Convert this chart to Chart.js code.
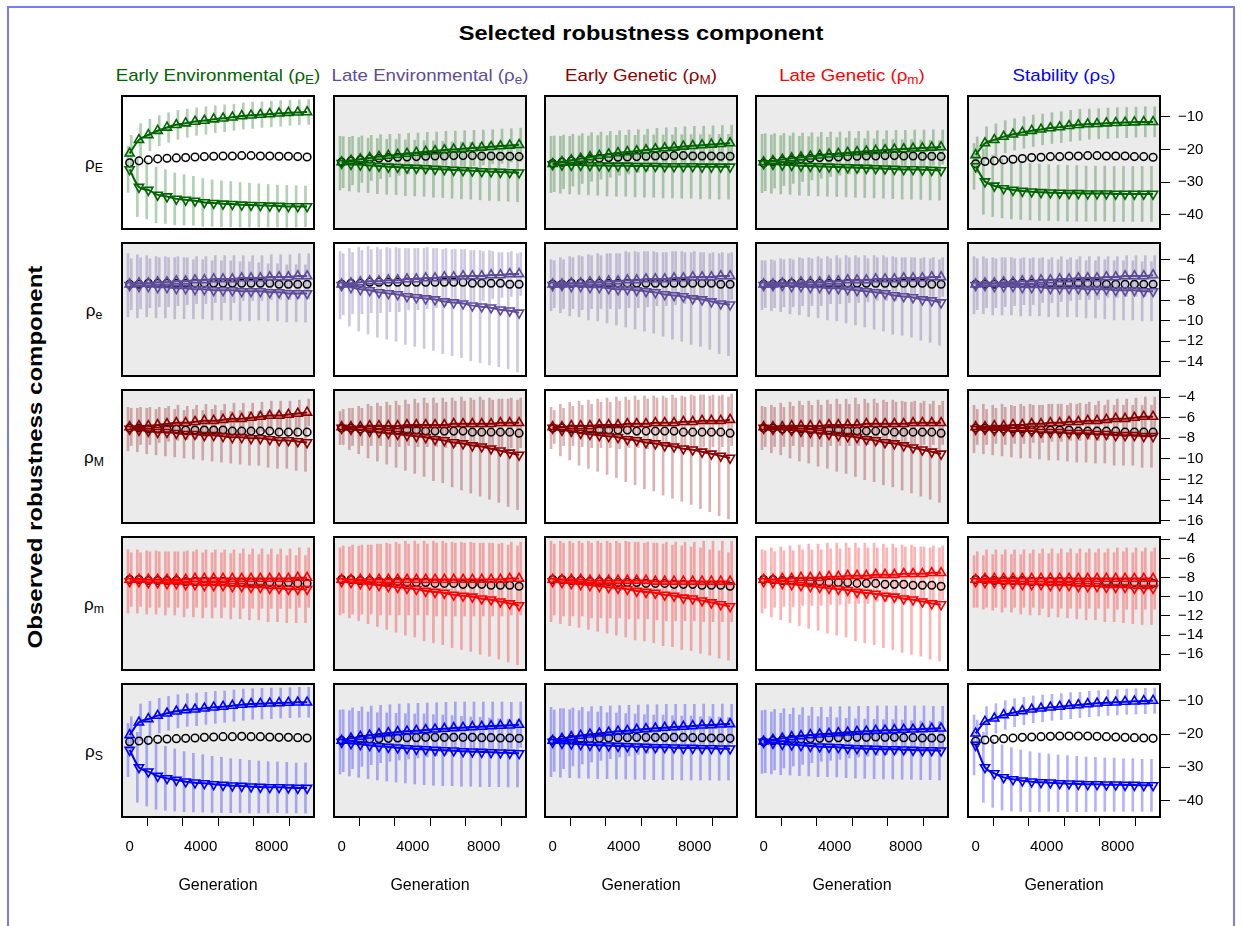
<!DOCTYPE html>
<html>
<head>
<meta charset="utf-8">
<script src="https://cdn.jsdelivr.net/npm/chart.js@4.4.0/dist/chart.umd.min.js"></script>
<style>
body{margin:0;background:#fff;width:1242px;height:926px;overflow:hidden;position:relative;font-family:"Liberation Sans",Arial,Helvetica,sans-serif;}
#frame{position:absolute;left:7px;top:6px;width:1224px;height:960px;border:2px solid #7a7aff;border-bottom:none;}
.t{position:absolute;white-space:nowrap;transform:translate(-50%,-50%);line-height:1;}
canvas{position:absolute;}
sub{font-size:0.72em;vertical-align:-0.3em;line-height:0;}
</style>
</head>
<body>
<div id="frame"></div>
<div class="t" style="left:641px;top:33px;font-weight:bold;font-size:20px;transform:translate(-50%,-50%) scaleX(1.18)">Selected robustness component</div>
<div class="t" style="left:35px;top:457px;font-weight:bold;font-size:20px;transform:translate(-50%,-50%) rotate(-90deg) scaleX(1.2)">Observed robustness component</div>
<script>
// generations at which populations were sampled
const gens = [0,526,1053,1579,2105,2632,3158,3684,4211,4737,5263,5789,6316,6842,7368,7895,8421,8947,9474,10000];

const components = ['Early Environmental','Late Environmental','Early Genetic','Late Genetic','Stability'];
const symbols = ['E','e','M','m','S'];
const compColors = ['#006400','#5e4b9a','#8b0000','#ff0000','#0000ff'];
const barColors = ['rgba(0,100,0,0.3)','rgba(94,75,154,0.3)','rgba(139,0,0,0.3)','rgba(255,0,0,0.3)','rgba(0,0,255,0.3)'];

const xTicks = [0,2000,4000,6000,8000,10000];
const xTickLabels = [0,4000,8000];
const rowTicks = [
  [-10,-20,-30,-40],
  [-4,-6,-8,-10,-12,-14],
  [-4,-6,-8,-10,-12,-14,-16],
  [-4,-6,-8,-10,-12,-14,-16],
  [-10,-20,-30,-40]
];
const rowRanges = [[-44.3,-3.7],[-15.4,-2.36],[-16.2,-3.32],[-17.64,-3.76],[-44.9,-5.0]];

// each row = observed component, inner arrays = selected component (columns)
// ctrl = unselected lines (circles), up / down = selection for higher / lower robustness
const earlyEnvCtrl = [
  [-24.1,-23.5,-23.2,-22.9,-22.7,-22.6,-22.5,-22.3,-22.2,-22.1,-22.0,-22.0,-21.9,-21.9,-22.0,-22.0,-22.1,-22.1,-22.2,-22.3],
  [-23.9,-23.5,-23.2,-22.9,-22.7,-22.5,-22.4,-22.3,-22.2,-22.1,-22.0,-22.0,-21.9,-21.9,-21.9,-22.0,-22.0,-22.1,-22.1,-22.2],
  [-24.3,-23.9,-23.5,-23.2,-22.9,-22.7,-22.5,-22.4,-22.3,-22.2,-22.1,-22.0,-22.0,-21.9,-21.9,-22.0,-22.0,-22.0,-22.1,-22.1],
  [-24.2,-23.8,-23.5,-23.2,-22.9,-22.7,-22.5,-22.4,-22.3,-22.2,-22.1,-22.0,-22.0,-21.9,-21.9,-22.0,-22.0,-22.1,-22.1,-22.2],
  [-24.4,-23.7,-23.5,-23.2,-23.0,-22.8,-22.5,-22.4,-22.2,-22.2,-22.0,-22.0,-21.9,-21.9,-22.0,-22.0,-22.0,-22.2,-22.2,-22.4]
];
const earlyEnvUp = [
  [-21.2,-17.1,-15.6,-14.3,-13.3,-12.5,-12.0,-11.5,-11.2,-10.8,-10.5,-10.2,-9.8,-9.6,-9.4,-9.2,-9.0,-8.8,-8.7,-8.6],
  [-23.9,-23.4,-23.0,-22.6,-22.2,-21.9,-21.6,-21.3,-21.0,-20.7,-20.5,-20.2,-20.0,-19.8,-19.6,-19.4,-19.2,-19.0,-18.8,-18.6],
  [-24.4,-23.8,-23.3,-22.8,-22.3,-21.9,-21.5,-21.1,-20.8,-20.5,-20.2,-19.9,-19.6,-19.4,-19.1,-18.9,-18.7,-18.5,-18.3,-18.1],
  [-23.9,-23.5,-23.1,-22.7,-22.4,-22.1,-21.8,-21.5,-21.3,-21.0,-20.8,-20.6,-20.4,-20.2,-20.0,-19.9,-19.7,-19.6,-19.4,-19.3],
  [-21.7,-18.1,-17.1,-16.1,-15.4,-14.8,-14.3,-13.9,-13.5,-13.2,-12.8,-12.5,-12.3,-12.2,-12.0,-11.9,-11.8,-11.7,-11.6,-11.6]
];
const earlyEnvDown = [
  [-26.1,-31.5,-32.4,-33.9,-34.4,-35.1,-35.4,-35.7,-36.2,-36.4,-36.6,-36.7,-36.9,-37.0,-37.1,-37.2,-37.3,-37.4,-37.4,-37.4],
  [-24.2,-24.5,-24.7,-24.9,-25.1,-25.3,-25.4,-25.6,-25.7,-25.8,-26.0,-26.1,-26.3,-26.4,-26.5,-26.7,-26.8,-26.9,-27.0,-27.1],
  [-24.6,-24.7,-24.8,-24.8,-24.9,-24.9,-25.0,-25.0,-25.0,-25.1,-25.1,-25.1,-25.2,-25.2,-25.2,-25.2,-25.3,-25.3,-25.3,-25.3],
  [-24.3,-24.5,-24.7,-24.8,-25.0,-25.1,-25.2,-25.3,-25.4,-25.5,-25.6,-25.7,-25.8,-25.9,-26.0,-26.1,-26.1,-26.2,-26.3,-26.4],
  [-25.2,-29.8,-31.1,-31.9,-32.4,-32.7,-32.9,-33.1,-33.2,-33.3,-33.4,-33.4,-33.5,-33.5,-33.5,-33.6,-33.6,-33.6,-33.6,-33.6]
];
const earlyEnvUpSd = [
  [5.5,5.0,4.8,4.6,4.5,4.4,4.3,4.2,4.2,4.1,4.1,4.0,4.0,4.0,3.9,3.9,3.9,3.8,3.8,3.8],
  [7.8,7.4,7.1,6.9,6.7,6.5,6.3,6.2,6.0,5.9,5.8,5.7,5.6,5.5,5.4,5.3,5.2,5.2,5.1,5.1],
  [8.5,8.2,7.9,7.6,7.4,7.2,7.0,6.8,6.7,6.5,6.4,6.3,6.2,6.1,6.0,5.9,5.8,5.7,5.6,5.5],
  [8.7,8.3,8.0,7.7,7.4,7.2,7.0,6.8,6.6,6.5,6.3,6.2,6.1,5.9,5.8,5.7,5.6,5.5,5.4,5.2],
  [5.5,5.0,4.9,4.9,4.8,4.8,4.8,4.7,4.7,4.7,4.7,4.7,4.6,4.6,4.6,4.6,4.6,4.6,4.6,4.6]
];
const earlyEnvDownSd = [
  [7.0,9.0,8.8,8.5,8.2,7.9,7.7,7.5,7.3,7.1,7.0,6.9,6.8,6.7,6.6,6.5,6.4,6.4,6.3,6.2],
  [8.2,8.2,8.3,8.3,8.4,8.4,8.4,8.5,8.5,8.5,8.6,8.6,8.6,8.7,8.7,8.7,8.8,8.8,8.8,8.9],
  [8.6,8.7,8.8,8.9,9.0,9.1,9.2,9.3,9.3,9.4,9.5,9.5,9.6,9.6,9.7,9.7,9.8,9.8,9.9,9.9],
  [8.9,8.9,8.9,8.9,9.0,9.0,9.0,9.0,9.0,9.0,9.0,9.0,9.0,9.0,9.0,9.1,9.1,9.1,9.1,9.1],
  [7.0,10.0,9.4,9.0,8.8,8.7,8.6,8.6,8.5,8.5,8.5,8.5,8.4,8.4,8.4,8.4,8.4,8.4,8.4,8.4]
];

const lateEnvCtrl = [
  [-6.4,-6.4,-6.3,-6.3,-6.3,-6.3,-6.3,-6.3,-6.3,-6.3,-6.3,-6.3,-6.3,-6.3,-6.3,-6.3,-6.4,-6.4,-6.4,-6.4],
  [-6.4,-6.3,-6.3,-6.2,-6.2,-6.2,-6.2,-6.2,-6.2,-6.2,-6.2,-6.2,-6.2,-6.2,-6.3,-6.3,-6.3,-6.3,-6.4,-6.4],
  [-6.4,-6.4,-6.3,-6.3,-6.3,-6.3,-6.3,-6.3,-6.3,-6.3,-6.3,-6.3,-6.3,-6.3,-6.3,-6.3,-6.3,-6.3,-6.4,-6.4],
  [-6.4,-6.4,-6.3,-6.3,-6.3,-6.3,-6.3,-6.3,-6.3,-6.3,-6.3,-6.3,-6.3,-6.3,-6.3,-6.3,-6.3,-6.3,-6.4,-6.4],
  [-6.4,-6.4,-6.4,-6.3,-6.3,-6.3,-6.3,-6.3,-6.3,-6.3,-6.3,-6.3,-6.3,-6.3,-6.4,-6.4,-6.4,-6.4,-6.4,-6.4]
];
const lateEnvUp = [
  [-6.4,-6.3,-6.3,-6.2,-6.2,-6.1,-6.1,-6.0,-6.0,-5.9,-5.9,-5.9,-5.8,-5.8,-5.8,-5.7,-5.7,-5.7,-5.6,-5.6],
  [-6.4,-6.3,-6.2,-6.1,-6.1,-6.0,-6.0,-5.9,-5.9,-5.8,-5.8,-5.7,-5.7,-5.6,-5.6,-5.6,-5.5,-5.5,-5.4,-5.4],
  [-6.4,-6.4,-6.3,-6.3,-6.2,-6.2,-6.1,-6.1,-6.0,-6.0,-5.9,-5.9,-5.9,-5.8,-5.8,-5.7,-5.7,-5.7,-5.6,-5.6],
  [-6.4,-6.4,-6.3,-6.3,-6.2,-6.2,-6.2,-6.1,-6.1,-6.0,-6.0,-6.0,-5.9,-5.9,-5.9,-5.8,-5.8,-5.8,-5.7,-5.7],
  [-6.4,-6.3,-6.3,-6.2,-6.2,-6.1,-6.1,-6.0,-6.0,-5.9,-5.9,-5.8,-5.8,-5.8,-5.7,-5.7,-5.6,-5.6,-5.6,-5.5]
];
const lateEnvDown = [
  [-6.5,-6.6,-6.6,-6.7,-6.7,-6.8,-6.8,-6.9,-6.9,-7.0,-7.0,-7.0,-7.1,-7.1,-7.1,-7.2,-7.2,-7.3,-7.3,-7.3],
  [-6.5,-6.7,-6.9,-7.0,-7.2,-7.3,-7.4,-7.6,-7.7,-7.8,-7.9,-8.1,-8.2,-8.3,-8.5,-8.6,-8.7,-8.9,-9.0,-9.2],
  [-6.5,-6.5,-6.6,-6.6,-6.7,-6.7,-6.8,-6.9,-6.9,-7.0,-7.1,-7.2,-7.4,-7.5,-7.6,-7.8,-7.9,-8.1,-8.3,-8.4],
  [-6.5,-6.5,-6.5,-6.6,-6.6,-6.7,-6.7,-6.8,-6.8,-6.9,-7.0,-7.1,-7.2,-7.3,-7.5,-7.6,-7.7,-7.9,-8.0,-8.2],
  [-6.5,-6.5,-6.6,-6.6,-6.6,-6.7,-6.7,-6.7,-6.8,-6.8,-6.8,-6.8,-6.9,-6.9,-6.9,-7.0,-7.0,-7.0,-7.1,-7.1]
];
const lateEnvUpSd = [
  [2.5,2.5,2.4,2.4,2.4,2.4,2.3,2.3,2.3,2.3,2.3,2.3,2.2,2.2,2.2,2.2,2.2,2.2,2.2,2.2],
  [3.0,3.0,3.1,3.1,3.1,3.1,3.1,3.0,3.0,3.0,2.9,2.8,2.7,2.6,2.5,2.4,2.3,2.2,2.2,2.1],
  [2.3,2.4,2.5,2.6,2.6,2.6,2.7,2.7,2.7,2.7,2.7,2.6,2.6,2.6,2.5,2.5,2.4,2.4,2.3,2.3],
  [2.3,2.3,2.3,2.3,2.3,2.3,2.3,2.2,2.2,2.2,2.2,2.1,2.1,2.1,2.1,2.0,2.0,2.0,1.9,1.9],
  [2.5,2.4,2.4,2.4,2.3,2.3,2.3,2.2,2.2,2.2,2.1,2.1,2.1,2.1,2.0,2.0,2.0,2.0,2.0,1.9]
];
const lateEnvDownSd = [
  [3.1,3.1,3.0,3.0,3.0,3.0,3.0,2.9,2.9,2.9,2.9,2.9,2.9,2.9,2.8,2.8,2.8,2.8,2.8,2.8],
  [3.3,3.8,4.1,4.3,4.4,4.5,4.6,4.7,4.8,4.9,5.0,5.1,5.2,5.3,5.4,5.5,5.6,5.6,5.7,5.8],
  [2.5,2.7,2.9,3.0,3.2,3.3,3.4,3.5,3.7,3.8,3.9,4.0,4.1,4.3,4.4,4.5,4.6,4.7,4.9,5.0],
  [2.4,2.5,2.6,2.7,2.8,2.9,3.0,3.1,3.2,3.3,3.4,3.5,3.6,3.7,3.8,3.8,3.9,4.0,4.1,4.2],
  [2.8,2.8,2.8,2.8,2.8,2.8,2.8,2.8,2.8,2.8,2.8,2.8,2.8,2.8,2.9,2.9,2.9,2.9,2.9,2.9]
];

const earlyGenCtrl = [
  [-7.0,-7.0,-7.1,-7.1,-7.1,-7.1,-7.2,-7.2,-7.2,-7.2,-7.2,-7.3,-7.3,-7.3,-7.3,-7.3,-7.4,-7.4,-7.4,-7.4],
  [-7.0,-7.0,-7.1,-7.1,-7.1,-7.2,-7.2,-7.2,-7.2,-7.3,-7.3,-7.3,-7.3,-7.3,-7.4,-7.4,-7.4,-7.4,-7.4,-7.5],
  [-7.0,-7.0,-7.1,-7.1,-7.1,-7.2,-7.2,-7.2,-7.2,-7.3,-7.3,-7.3,-7.3,-7.3,-7.4,-7.4,-7.4,-7.4,-7.4,-7.5],
  [-7.0,-7.0,-7.1,-7.1,-7.1,-7.2,-7.2,-7.2,-7.2,-7.3,-7.3,-7.3,-7.3,-7.3,-7.4,-7.4,-7.4,-7.4,-7.4,-7.5],
  [-7.0,-7.0,-7.1,-7.1,-7.1,-7.1,-7.2,-7.2,-7.2,-7.2,-7.2,-7.3,-7.3,-7.3,-7.3,-7.3,-7.4,-7.4,-7.4,-7.4]
];
const earlyGenUp = [
  [-6.9,-6.8,-6.8,-6.7,-6.6,-6.5,-6.5,-6.4,-6.3,-6.3,-6.2,-6.1,-6.1,-6.0,-5.9,-5.8,-5.8,-5.7,-5.6,-5.5],
  [-6.9,-6.9,-6.9,-6.8,-6.8,-6.8,-6.8,-6.7,-6.7,-6.7,-6.7,-6.7,-6.6,-6.6,-6.6,-6.6,-6.6,-6.5,-6.5,-6.5],
  [-6.9,-6.9,-6.8,-6.8,-6.8,-6.7,-6.7,-6.7,-6.6,-6.6,-6.6,-6.5,-6.5,-6.5,-6.4,-6.4,-6.3,-6.3,-6.3,-6.2],
  [-6.9,-6.9,-6.9,-6.8,-6.8,-6.8,-6.8,-6.7,-6.7,-6.7,-6.7,-6.6,-6.6,-6.6,-6.6,-6.6,-6.5,-6.5,-6.5,-6.5],
  [-6.9,-6.9,-6.8,-6.8,-6.7,-6.7,-6.6,-6.6,-6.5,-6.5,-6.4,-6.4,-6.3,-6.3,-6.2,-6.1,-6.1,-6.0,-5.9,-5.9]
];
const earlyGenDown = [
  [-7.1,-7.2,-7.3,-7.4,-7.4,-7.5,-7.6,-7.6,-7.7,-7.7,-7.8,-7.9,-7.9,-8.0,-8.0,-8.1,-8.2,-8.2,-8.3,-8.4],
  [-7.0,-7.1,-7.2,-7.3,-7.4,-7.5,-7.6,-7.7,-7.8,-7.9,-8.1,-8.2,-8.4,-8.5,-8.7,-8.8,-9.0,-9.2,-9.4,-9.6],
  [-7.0,-7.2,-7.3,-7.5,-7.6,-7.7,-7.8,-7.9,-8.1,-8.2,-8.4,-8.5,-8.7,-8.8,-9.0,-9.1,-9.3,-9.5,-9.7,-9.9],
  [-7.0,-7.1,-7.1,-7.2,-7.3,-7.4,-7.5,-7.6,-7.7,-7.8,-7.9,-8.1,-8.2,-8.4,-8.5,-8.7,-8.9,-9.1,-9.3,-9.5],
  [-7.1,-7.1,-7.2,-7.2,-7.3,-7.3,-7.3,-7.4,-7.4,-7.4,-7.5,-7.5,-7.5,-7.6,-7.6,-7.7,-7.7,-7.7,-7.8,-7.8]
];
const earlyGenUpSd = [
  [1.8,1.8,1.8,1.7,1.7,1.7,1.6,1.6,1.6,1.5,1.5,1.5,1.5,1.4,1.4,1.4,1.4,1.3,1.3,1.3],
  [1.7,1.8,1.8,1.9,1.9,2.0,2.0,2.0,2.1,2.1,2.1,2.2,2.2,2.2,2.3,2.3,2.3,2.3,2.4,2.4],
  [1.6,1.8,1.9,2.0,2.1,2.2,2.2,2.3,2.3,2.3,2.4,2.4,2.4,2.4,2.4,2.5,2.5,2.5,2.5,2.5],
  [1.9,1.9,1.9,1.9,2.0,2.0,2.0,2.0,2.0,2.0,2.0,2.0,2.0,2.1,2.1,2.1,2.1,2.1,2.1,2.1],
  [1.7,1.7,1.7,1.8,1.8,1.8,1.8,1.8,1.8,1.8,1.8,1.8,1.8,1.9,1.9,1.9,1.9,1.9,1.9,1.9]
];
const earlyGenDownSd = [
  [2.1,2.1,2.2,2.2,2.3,2.3,2.3,2.4,2.4,2.5,2.5,2.5,2.6,2.6,2.6,2.7,2.7,2.7,2.8,2.8],
  [1.6,2.0,2.3,2.6,2.8,3.0,3.2,3.4,3.6,3.8,4.0,4.1,4.3,4.5,4.6,4.8,4.9,5.0,5.2,5.3],
  [2.0,2.5,2.8,3.1,3.3,3.5,3.7,3.9,4.1,4.3,4.5,4.6,4.8,5.0,5.1,5.3,5.5,5.6,5.8,5.9],
  [2.1,2.3,2.5,2.7,2.9,3.0,3.2,3.3,3.5,3.6,3.8,3.9,4.0,4.1,4.2,4.3,4.4,4.5,4.6,4.7],
  [2.3,2.4,2.4,2.5,2.5,2.6,2.6,2.6,2.7,2.7,2.7,2.8,2.8,2.8,2.8,2.9,2.9,2.9,3.0,3.0]
];

const lateGenCtrl = [
  [-8.2,-8.2,-8.3,-8.3,-8.3,-8.3,-8.4,-8.4,-8.4,-8.4,-8.4,-8.5,-8.5,-8.5,-8.5,-8.5,-8.5,-8.5,-8.6,-8.6],
  [-8.2,-8.2,-8.3,-8.3,-8.4,-8.4,-8.4,-8.5,-8.5,-8.5,-8.6,-8.6,-8.6,-8.7,-8.7,-8.7,-8.8,-8.8,-8.8,-8.9],
  [-8.2,-8.2,-8.3,-8.3,-8.4,-8.4,-8.4,-8.5,-8.5,-8.5,-8.6,-8.6,-8.6,-8.7,-8.7,-8.7,-8.8,-8.8,-8.8,-8.9],
  [-8.2,-8.2,-8.3,-8.3,-8.4,-8.4,-8.4,-8.5,-8.5,-8.5,-8.6,-8.6,-8.6,-8.7,-8.7,-8.7,-8.8,-8.8,-8.8,-8.9],
  [-8.2,-8.2,-8.3,-8.3,-8.3,-8.3,-8.4,-8.4,-8.4,-8.4,-8.4,-8.5,-8.5,-8.5,-8.5,-8.5,-8.5,-8.5,-8.6,-8.6]
];
const lateGenUp = [
  [-8.2,-8.2,-8.2,-8.2,-8.2,-8.2,-8.2,-8.1,-8.1,-8.1,-8.1,-8.1,-8.1,-8.1,-8.1,-8.1,-8.1,-8.1,-8.0,-8.0],
  [-8.2,-8.2,-8.2,-8.2,-8.2,-8.2,-8.2,-8.2,-8.2,-8.2,-8.2,-8.2,-8.2,-8.2,-8.2,-8.2,-8.2,-8.2,-8.1,-8.1],
  [-8.2,-8.2,-8.2,-8.2,-8.3,-8.3,-8.3,-8.3,-8.3,-8.3,-8.3,-8.4,-8.4,-8.4,-8.4,-8.4,-8.4,-8.4,-8.4,-8.4],
  [-8.2,-8.2,-8.1,-8.1,-8.0,-8.0,-8.0,-7.9,-7.9,-7.8,-7.8,-7.8,-7.7,-7.7,-7.7,-7.6,-7.6,-7.6,-7.5,-7.5],
  [-8.2,-8.1,-8.1,-8.1,-8.1,-8.1,-8.1,-8.1,-8.1,-8.1,-8.1,-8.1,-8.1,-8.1,-8.1,-8.1,-8.1,-8.1,-8.1,-8.1]
];
const lateGenDown = [
  [-8.4,-8.4,-8.5,-8.5,-8.6,-8.6,-8.7,-8.7,-8.8,-8.8,-8.8,-8.9,-8.9,-9.0,-9.0,-9.1,-9.1,-9.2,-9.2,-9.2],
  [-8.4,-8.5,-8.6,-8.7,-8.8,-8.9,-9.0,-9.1,-9.2,-9.4,-9.5,-9.6,-9.8,-9.9,-10.0,-10.2,-10.3,-10.5,-10.7,-10.9],
  [-8.4,-8.5,-8.6,-8.7,-8.8,-8.9,-9.0,-9.1,-9.2,-9.4,-9.5,-9.6,-9.8,-9.9,-10.1,-10.2,-10.4,-10.6,-10.8,-11.0],
  [-8.4,-8.5,-8.6,-8.7,-8.8,-8.9,-9.0,-9.1,-9.2,-9.3,-9.5,-9.6,-9.7,-9.9,-10.0,-10.2,-10.3,-10.5,-10.7,-10.8],
  [-8.4,-8.5,-8.5,-8.6,-8.6,-8.7,-8.7,-8.7,-8.8,-8.8,-8.8,-8.9,-8.9,-8.9,-9.0,-9.0,-9.0,-9.1,-9.1,-9.1]
];
const lateGenUpSd = [
  [2.8,2.8,2.9,2.9,2.9,2.9,3.0,3.0,3.0,3.0,3.0,3.0,3.1,3.1,3.1,3.1,3.1,3.1,3.1,3.1],
  [3.5,3.6,3.6,3.6,3.7,3.7,3.7,3.7,3.7,3.7,3.8,3.8,3.8,3.8,3.8,3.8,3.8,3.8,3.8,3.8],
  [3.7,3.8,3.8,3.8,3.9,3.9,3.9,3.9,4.0,4.0,4.0,4.0,4.1,4.1,4.1,4.1,4.2,4.2,4.2,4.2],
  [3.0,2.9,2.9,2.9,2.9,2.9,2.9,2.9,2.9,2.9,2.9,2.9,2.8,2.8,2.8,2.8,2.8,2.8,2.8,2.8],
  [2.9,3.0,3.0,3.0,3.0,3.0,3.0,3.1,3.1,3.1,3.1,3.1,3.1,3.1,3.1,3.2,3.2,3.2,3.2,3.2]
];
const lateGenDownSd = [
  [3.3,3.3,3.3,3.3,3.3,3.3,3.4,3.4,3.4,3.4,3.4,3.4,3.4,3.4,3.4,3.5,3.5,3.5,3.5,3.5],
  [3.5,3.7,3.9,4.1,4.3,4.5,4.7,4.9,5.0,5.2,5.3,5.4,5.5,5.6,5.7,5.8,5.9,6.0,6.1,6.2],
  [4.2,4.3,4.4,4.5,4.6,4.7,4.8,4.9,5.0,5.1,5.1,5.2,5.3,5.3,5.4,5.4,5.5,5.5,5.6,5.6],
  [3.3,3.6,3.8,4.0,4.2,4.4,4.5,4.7,4.8,4.9,5.1,5.2,5.3,5.4,5.5,5.6,5.7,5.7,5.8,5.9],
  [2.7,2.8,2.9,3.0,3.0,3.1,3.2,3.2,3.3,3.3,3.4,3.4,3.5,3.5,3.6,3.6,3.7,3.7,3.8,3.8]
];

const stabilityCtrl = [
  [-22.3,-22.1,-21.9,-21.6,-21.5,-21.4,-21.3,-21.2,-21.0,-20.9,-20.8,-20.8,-20.7,-20.8,-20.8,-20.9,-21.0,-21.0,-21.1,-21.2],
  [-22.0,-21.8,-21.6,-21.5,-21.4,-21.3,-21.2,-21.1,-21.1,-21.0,-21.0,-21.0,-21.0,-21.0,-21.0,-21.1,-21.1,-21.2,-21.2,-21.3],
  [-22.0,-21.8,-21.6,-21.5,-21.4,-21.3,-21.2,-21.1,-21.1,-21.0,-21.0,-21.0,-21.0,-21.0,-21.0,-21.1,-21.1,-21.2,-21.2,-21.3],
  [-22.3,-22.0,-21.8,-21.6,-21.5,-21.4,-21.3,-21.2,-21.1,-21.0,-21.0,-21.0,-20.9,-21.0,-21.0,-21.1,-21.1,-21.2,-21.2,-21.3],
  [-22.1,-21.8,-21.6,-21.4,-21.2,-21.0,-20.9,-20.8,-20.7,-20.6,-20.6,-20.6,-20.6,-20.7,-20.8,-20.9,-21.0,-21.1,-21.2,-21.3]
];
const stabilityUp = [
  [-20.3,-16.5,-15.5,-14.5,-13.8,-13.2,-12.8,-12.6,-12.3,-12.0,-11.8,-11.5,-11.2,-11.0,-10.9,-10.8,-10.7,-10.6,-10.5,-10.5],
  [-22.0,-21.3,-20.8,-20.4,-20.0,-19.7,-19.4,-19.2,-19.0,-18.8,-18.6,-18.4,-18.2,-18.1,-17.9,-17.8,-17.6,-17.5,-17.4,-17.2],
  [-22.0,-21.4,-20.9,-20.5,-20.1,-19.8,-19.5,-19.2,-19.0,-18.7,-18.5,-18.3,-18.1,-17.9,-17.8,-17.6,-17.4,-17.3,-17.1,-17.0],
  [-22.2,-21.7,-21.3,-20.9,-20.6,-20.3,-20.1,-19.9,-19.7,-19.5,-19.3,-19.2,-19.0,-18.9,-18.8,-18.7,-18.6,-18.5,-18.4,-18.3],
  [-19.8,-16.3,-15.3,-14.3,-13.6,-13.1,-12.6,-12.3,-12.0,-11.8,-11.5,-11.3,-11.0,-10.8,-10.6,-10.5,-10.3,-10.2,-10.1,-10.0]
];
const stabilityDown = [
  [-24.8,-30.0,-31.3,-32.6,-33.3,-33.8,-34.3,-34.6,-34.8,-35.1,-35.3,-35.5,-35.6,-35.8,-35.9,-36.0,-36.0,-36.1,-36.2,-36.2],
  [-22.4,-22.8,-23.1,-23.4,-23.7,-23.9,-24.1,-24.3,-24.5,-24.6,-24.8,-24.9,-25.0,-25.2,-25.3,-25.4,-25.5,-25.6,-25.7,-25.8],
  [-22.4,-22.7,-22.9,-23.1,-23.3,-23.4,-23.5,-23.6,-23.7,-23.8,-23.9,-24.0,-24.0,-24.1,-24.2,-24.2,-24.3,-24.3,-24.4,-24.4],
  [-22.4,-22.7,-23.0,-23.2,-23.4,-23.6,-23.8,-23.9,-24.0,-24.2,-24.3,-24.4,-24.5,-24.6,-24.6,-24.7,-24.8,-24.9,-24.9,-25.0],
  [-23.3,-30.0,-31.8,-33.0,-33.6,-34.0,-34.3,-34.5,-34.6,-34.8,-34.9,-35.0,-35.1,-35.1,-35.2,-35.2,-35.3,-35.3,-35.4,-35.4]
];
const stabilityUpSd = [
  [5.5,5.5,5.3,5.2,5.1,5.0,4.9,4.9,4.8,4.8,4.7,4.7,4.7,4.6,4.6,4.6,4.5,4.5,4.5,4.5],
  [9.3,9.1,8.9,8.8,8.6,8.5,8.4,8.3,8.2,8.1,8.0,7.9,7.8,7.7,7.5,7.4,7.2,7.1,6.9,6.8],
  [9.2,9.0,8.7,8.5,8.3,8.1,7.9,7.7,7.6,7.4,7.3,7.1,7.0,6.8,6.7,6.5,6.4,6.2,6.1,5.9],
  [9.4,9.1,8.9,8.7,8.5,8.3,8.1,8.0,7.9,7.7,7.6,7.5,7.4,7.3,7.2,7.1,7.0,6.9,6.7,6.6],
  [4.0,4.5,4.4,4.3,4.2,4.1,4.0,4.0,3.9,3.9,3.9,3.8,3.8,3.8,3.8,3.8,3.8,3.8,3.8,3.8]
];
const stabilityDownSd = [
  [8.0,10.5,10.3,10.0,9.6,9.3,9.0,8.8,8.6,8.4,8.3,8.1,8.0,7.9,7.8,7.7,7.6,7.6,7.5,7.5],
  [9.6,9.8,9.9,10.0,10.1,10.2,10.3,10.4,10.5,10.6,10.6,10.6,10.5,10.5,10.4,10.4,10.3,10.2,10.2,10.1],
  [10.4,10.3,10.2,10.1,10.0,10.0,9.9,9.9,9.8,9.8,9.7,9.7,9.7,9.6,9.6,9.6,9.5,9.5,9.5,9.4],
  [9.4,9.3,9.2,9.1,9.1,9.0,9.0,8.9,8.9,8.9,8.9,8.9,8.9,8.9,8.9,8.9,8.8,8.8,8.8,8.8],
  [9.0,10.5,10.2,9.8,9.5,9.2,9.0,8.8,8.6,8.5,8.4,8.3,8.2,8.1,8.0,8.0,7.9,7.9,7.8,7.8]
];

const ctrlRows = [earlyEnvCtrl, lateEnvCtrl, earlyGenCtrl, lateGenCtrl, stabilityCtrl];
const upRows = [earlyEnvUp, lateEnvUp, earlyGenUp, lateGenUp, stabilityUp];
const downRows = [earlyEnvDown, lateEnvDown, earlyGenDown, lateGenDown, stabilityDown];
const upSdRows = [earlyEnvUpSd, lateEnvUpSd, earlyGenUpSd, lateGenUpSd, stabilityUpSd];
const downSdRows = [earlyEnvDownSd, lateEnvDownSd, earlyGenDownSd, lateGenDownSd, stabilityDownSd];

// layout of the panel grid (pixels)
const colLeft = [122, 334, 545, 756, 968];
const rowTop = [96, 243, 390, 537, 684];
const boxW = 192, boxH = 133, axisW = 56, axisH = 82;

Chart.defaults.font.family = '"Liberation Sans", Arial, Helvetica, sans-serif';
Chart.defaults.font.size = 15;
Chart.defaults.color = '#000';

// column headers and row labels
components.forEach((name, c) => {
  const d = document.createElement('div');
  d.className = 't';
  d.style.left = (colLeft[c] + boxW / 2) + 'px';
  d.style.top = '75px';
  d.style.fontSize = '17px';
  d.style.transform = 'translate(-50%,-50%) scaleX(1.1)';
  d.style.color = compColors[c];
  d.innerHTML = name + ' (\u03c1<sub>' + symbols[c] + '</sub>)';
  document.body.appendChild(d);
});
symbols.forEach((s, r) => {
  const d = document.createElement('div');
  d.className = 't';
  d.style.left = '94px';
  d.style.top = (rowTop[r] + boxH / 2) + 'px';
  d.style.fontSize = '17px';
  d.innerHTML = '\u03c1<sub>' + s + '</sub>';
  document.body.appendChild(d);
});

const panelFrame = {
  id: 'panelFrame',
  beforeDraw(chart, args, opts) {
    const {ctx, chartArea: a} = chart;
    ctx.save();
    ctx.fillStyle = opts.bg;
    ctx.fillRect(a.left, a.top, a.width, a.height);
    ctx.restore();
  },
  afterDraw(chart) {
    const {ctx, chartArea: a} = chart;
    ctx.save();
    ctx.strokeStyle = '#000';
    ctx.lineWidth = 2;
    ctx.strokeRect(a.left, a.top, a.width, a.height);
    ctx.restore();
  }
};

function pts(vals) {
  return gens.map((g, i) => ({x: g, y: vals[i]}));
}
function bars(vals, sds, off) {
  return gens.map((g, i) => ({x: g + off, y: [vals[i] - sds[i], vals[i] + sds[i]]}));
}

for (let r = 0; r < 5; r++) {
  for (let c = 0; c < 5; c++) {
    const right = c === 4, bottom = r === 4;
    const padL = 2, padR = 2;
    const padT = right ? 10 : 2;
    const padB = (right && !bottom) ? 10 : 2;
    const w = boxW + padL + padR + (right ? axisW : 0);
    const h = boxH + padT + padB + (bottom ? axisH : 0);
    const cv = document.createElement('canvas');
    cv.width = w; cv.height = h;
    cv.style.width = w + 'px'; cv.style.height = h + 'px';
    cv.style.left = (colLeft[c] - padL) + 'px';
    cv.style.top = (rowTop[r] - padT) + 'px';
    document.body.appendChild(cv);

    const col = compColors[r];
    const up = upRows[r][c], down = downRows[r][c];
    const tri = {
      type: 'line', borderColor: col, borderWidth: 2, pointRadius: 5.3,
      pointBorderWidth: 1.6, pointBorderColor: col, pointBackgroundColor: 'rgba(0,0,0,0)',
      pointStyle: 'triangle', cubicInterpolationMode: 'monotone', order: 1
    };

    new Chart(cv, {
      type: 'line',
      data: {
        datasets: [
          {type: 'bar', data: bars(up, upSdRows[r][c], 90), backgroundColor: barColors[r], barThickness: 2, grouped: false, order: 5},
          {type: 'bar', data: bars(down, downSdRows[r][c], -90), backgroundColor: barColors[r], barThickness: 2, grouped: false, order: 5},
          {type: 'line', data: pts(ctrlRows[r][c]), showLine: false, pointStyle: 'circle', pointRadius: 3.8,
            pointBorderWidth: 1.5, pointBorderColor: '#000', pointBackgroundColor: 'rgba(0,0,0,0)', order: 3},
          Object.assign({data: pts(up)}, tri),
          Object.assign({data: pts(down), pointRotation: 180}, tri)
        ]
      },
      options: {
        responsive: false,
        animation: false,
        events: [],
        layout: {autoPadding: false, padding: {left: padL, right: padR, top: padT, bottom: padB}},
        plugins: {legend: {display: false}, tooltip: {enabled: false}, panelFrame: {bg: r === c ? '#ffffff' : '#ebebeb'}},
        scales: {
          x: {
            type: 'linear', min: -430, max: 10390, offset: false, display: bottom,
            afterBuildTicks: s => { s.ticks = xTicks.map(v => ({value: v})); },
            afterFit: s => { if (bottom) { s.height = axisH; s.paddingLeft = 0; s.paddingRight = 0; } },
            grid: {drawOnChartArea: false, drawTicks: true, tickLength: 9, color: '#000'},
            border: {display: false},
            ticks: {autoSkip: false, maxRotation: 0, padding: 12, callback: v => xTickLabels.includes(v) ? String(v) : ''},
            title: {display: true, text: 'Generation', font: {size: 16}, padding: {top: 4, bottom: 4}}
          },
          y: {
            type: 'linear', position: 'right', min: rowRanges[r][0], max: rowRanges[r][1], display: right,
            beginAtZero: false,
            afterBuildTicks: s => { s.ticks = rowTicks[r].map(v => ({value: v})); },
            afterFit: s => { if (right) { s.width = axisW; s.paddingTop = 0; s.paddingBottom = 0; } },
            grid: {drawOnChartArea: false, drawTicks: true, tickLength: 10, color: '#000'},
            border: {display: false},
            ticks: {autoSkip: false, padding: 8, callback: v => '\u2212' + Math.abs(v)}
          }
        }
      },
      plugins: [panelFrame]
    });
  }
}
</script>
</body>
</html>
